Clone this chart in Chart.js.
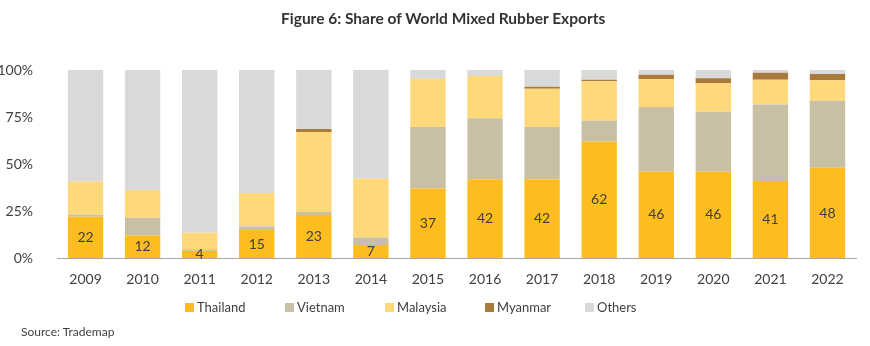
<!DOCTYPE html>
<html>
<head>
<meta charset="utf-8">
<script src="https://cdn.jsdelivr.net/npm/chart.js@4.4.0/dist/chart.umd.min.js"></script>
<style>
  body { margin: 0; background: #fff; font-family: Lato, "Open Sans", sans-serif; }
  #wrap { position: relative; width: 870px; height: 346px; overflow: hidden; }
  #chart { position: absolute; left: 0; top: 0; }
  #title { position: absolute; top: 9px; left: 281px; font-size: 15.5px; font-weight: bold; color: #333; white-space: nowrap; }
  #legend { position: absolute; top: 299px; left: 185px; display: flex; font-size: 13px; color: #404040; }
  #legend .item { width: 100px; display: flex; align-items: center; }
  #legend .box { width: 9px; height: 9px; margin-right: 3px; }
  #source { position: absolute; left: 21px; top: 324px; font-size: 12px; color: #404040; }
</style>
</head>
<body>
<div id="wrap">
  <canvas id="chart" width="870" height="346"></canvas>
  <div id="title">Figure 6: Share of World Mixed Rubber Exports</div>
  <div id="legend"></div>
  <div id="source">Source: Trademap</div>
</div>
<script>
const years = ['2009', '2010', '2011', '2012', '2013', '2014', '2015', '2016', '2017', '2018', '2019', '2020', '2021', '2022'];

// shares in percent, per year
const thailand = [22, 12, 4, 15, 23, 7, 37, 42, 42, 62, 46, 46, 41, 48];
const vietnam  = [1.2, 9.5, 0.8, 1.8, 1.5, 4, 32.7, 32.3, 27.7, 11, 34.3, 31.8, 40.7, 35.7];
const malaysia = [17.6, 14.7, 8.7, 17.9, 42.5, 31.4, 25.7, 22.5, 20.4, 21, 14.9, 15.1, 13.1, 10.8];
const myanmar  = [0, 0, 0, 0, 1.6, 0, 0, 0, 1.0, 0.8, 2.3, 2.7, 3.8, 3.4];
const others   = [59.2, 63.8, 86.5, 65.3, 31.4, 57.6, 4.6, 3.2, 8.9, 5.2, 2.5, 4.4, 1.4, 2.1];

const yTicks = [0, 25, 50, 75, 100];

const seriesNames = ['Thailand', 'Vietnam', 'Malaysia', 'Myanmar', 'Others'];
const seriesColors = ['#FDBD1E', '#C8C0A4', '#FED879', '#A87B3C', '#D9D9D9'];
const seriesData = [thailand, vietnam, malaysia, myanmar, others];

// value labels in the middle of the Thailand segments
const thaiLabels = {
  id: 'thaiLabels',
  afterDatasetsDraw(chart) {
    const ctx = chart.ctx;
    const meta = chart.getDatasetMeta(0);
    ctx.save();
    ctx.font = '14px Lato, "Open Sans", sans-serif';
    ctx.fillStyle = '#404040';
    ctx.textAlign = 'center';
    ctx.textBaseline = 'middle';
    meta.data.forEach((bar, i) => {
      const mid = (bar.y + bar.base) / 2;
      ctx.fillText(String(thailand[i]), bar.x, mid);
    });
    ctx.restore();
  }
};

const chart = new Chart(document.getElementById('chart'), {
  type: 'bar',
  data: {
    labels: years,
    datasets: seriesData.map((d, i) => ({
      label: seriesNames[i],
      data: d,
      backgroundColor: seriesColors[i],
      borderWidth: 0,
      barPercentage: 0.62,
      categoryPercentage: 1
    }))
  },
  options: {
    responsive: false,
    animation: false,
    layout: { padding: { top: 70, bottom: 53, left: 0, right: 14 } },
    plugins: {
      legend: { display: false },
      tooltip: { enabled: false }
    },
    scales: {
      x: {
        stacked: true,
        grid: { display: false },
        border: { color: '#A6A6A6', width: 1 },
        ticks: {
          color: '#404040',
          padding: 5,
          font: { family: 'Lato, "Open Sans", sans-serif', size: 14 }
        }
      },
      y: {
        stacked: true,
        min: 0,
        max: 100,
        grid: { display: false },
        border: { display: false },
        afterFit(scale) { scale.width = 57; },
        afterBuildTicks(scale) { scale.ticks = yTicks.map(v => ({ value: v })); },
        ticks: {
          color: '#404040',
          padding: 16,
          font: { family: 'Lato, "Open Sans", sans-serif', size: 14 },
          callback: v => v + '%'
        }
      }
    }
  },
  plugins: [thaiLabels]
});

// legend with evenly spaced entries
const legend = document.getElementById('legend');
seriesNames.forEach((name, i) => {
  const item = document.createElement('div');
  item.className = 'item';
  item.innerHTML = `<span class="box" style="background:${seriesColors[i]}"></span><span>${name}</span>`;
  legend.appendChild(item);
});
</script>
</body>
</html>
